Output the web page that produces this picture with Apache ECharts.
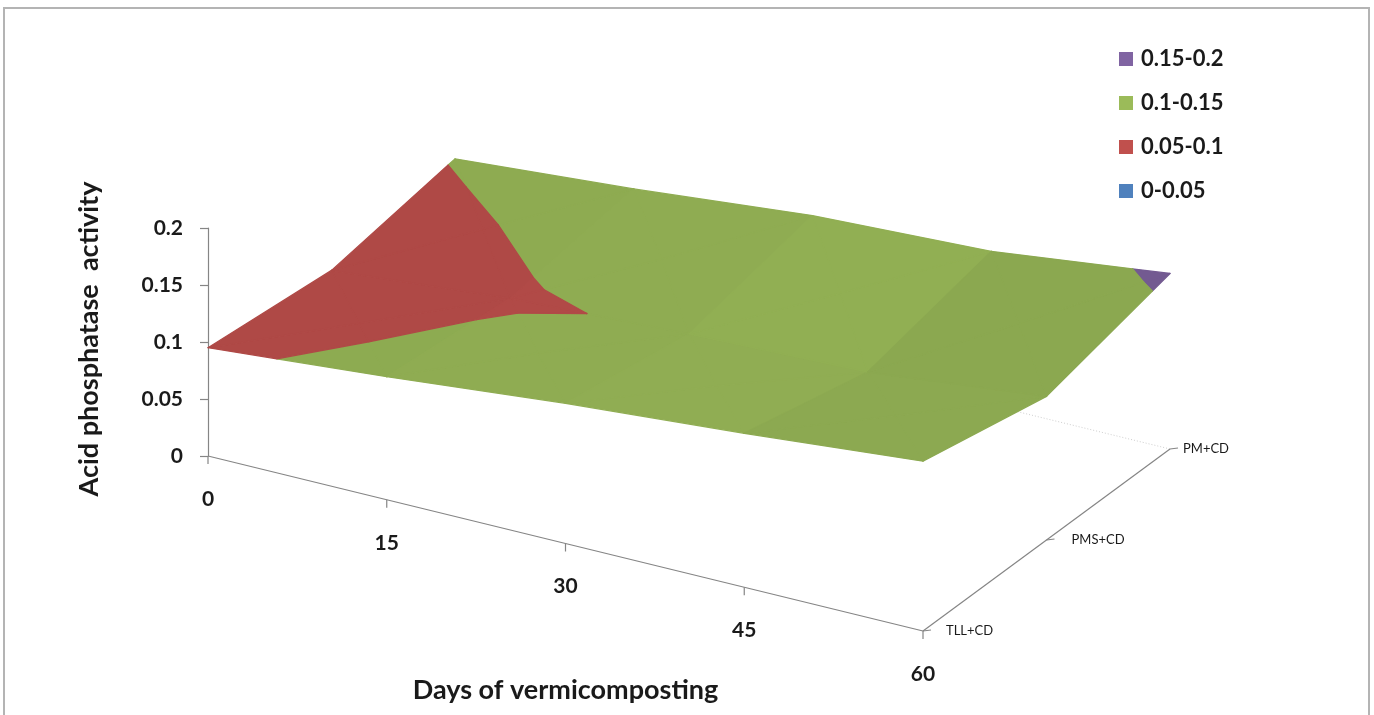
<!DOCTYPE html>
<html><head><meta charset="utf-8">
<style>html,body{margin:0;padding:0;background:#fff}#c{width:1374px;height:715px}</style>
<script src="https://cdn.jsdelivr.net/npm/echarts@6/dist/echarts.min.js"></script>
</head><body><div id="c"></div>
<script>
// ---- data ----
const days = [0, 15, 30, 45, 60];
const rows = ['TLL+CD', 'PMS+CD', 'PM+CD'];
const tllValues = [0.095, 0.108, 0.123, 0.135, 0.149];
const pmsValues = [0.083, 0.097, 0.104, 0.109, 0.126];
const pmValues  = [0.101, 0.113, 0.128, 0.135, 0.154];
const bandNames = ['0.15-0.2', '0.1-0.15', '0.05-0.1', '0-0.05'];
const bandLows  = [0.15, 0.1, 0.05, 0];
const bandHighs = [0.2, 0.15, 0.1, 0.05];
const bandColors = ['#8064A2', '#9BBB59', '#C0504D', '#4F81BD'];
const valueTicks = [0, 0.05, 0.1, 0.15, 0.2];

// ---- oblique projection: day axis falls to the right, row axis recedes up-right ----
const font = 'Lato, "Noto Sans", sans-serif';
const axisColor = '#858585';
const DAY_DROP = 175, ROW_DX = 247, ROW_DY = -182;
const ROW_LABEL_OFFSET = [23, 25, 13];
function project(api, day, rowPos, v) {
  const p = api.coord([day, v]);
  const f = day / 60;
  return [p[0] + rowPos * ROW_DX, p[1] + f * DAY_DROP + rowPos * ROW_DY];
}

// surface: every cell split at its centre (mean of its corners) into four triangles,
// each cell shaded from its mean slope along the day axis
const table = [tllValues, pmsValues, pmValues];
const triangles = [];
for (let r = 0; r < rows.length - 1; r++) {
  for (let d = 0; d < days.length - 1; d++) {
    const A = {day: days[d],   row: r / 2,       v: table[r][d]};
    const B = {day: days[d+1], row: r / 2,       v: table[r][d+1]};
    const C = {day: days[d+1], row: (r + 1) / 2, v: table[r+1][d+1]};
    const D = {day: days[d],   row: (r + 1) / 2, v: table[r+1][d]};
    const M = {day: (A.day + B.day) / 2, row: (A.row + D.row) / 2, v: (A.v + B.v + C.v + D.v) / 4};
    const slope = ((B.v - A.v) + (C.v - D.v)) / 2 / ((days[d+1] - days[d]) / 60);
    const shade = 0.955 - 0.8 * slope;
    [[A, B, M], [B, C, M], [C, D, M], [D, A, M]].forEach(t => triangles.push({pts: t, shade}));
  }
}
function clipBand(tri, lo, hi) {
  function clip(poly, keep, level) {
    const out = [];
    for (let i = 0; i < poly.length; i++) {
      const p = poly[i], q = poly[(i + 1) % poly.length];
      const kp = keep(p.v), kq = keep(q.v);
      if (kp) out.push(p);
      if (kp !== kq) {
        const t = (level - p.v) / (q.v - p.v);
        out.push({day: p.day + t * (q.day - p.day), row: p.row + t * (q.row - p.row), v: level});
      }
    }
    return out;
  }
  let poly = clip(tri, v => v >= lo, lo);
  if (poly.length) poly = clip(poly, v => v <= hi, hi);
  return poly;
}
function shadeColor(hex, f) {
  const n = parseInt(hex.slice(1), 16);
  const c = [(n >> 16) & 255, (n >> 8) & 255, n & 255].map(x => Math.round(x * f));
  return 'rgb(' + c.join(',') + ')';
}

const bandSeries = bandNames.map((name, bi) => ({
  name, type: 'custom', coordinateSystem: 'cartesian2d', silent: true, clip: false, z: 3,
  itemStyle: {color: bandColors[bi]},
  data: triangles.map((t, i) => [0, 0, i]),
  renderItem(params, api) {
    const tri = triangles[api.value(2)];
    const poly = clipBand(tri.pts, bandLows[bi], bandHighs[bi]);
    if (poly.length < 3) return {type: 'group', children: []};
    const col = shadeColor(bandColors[bi], tri.shade);
    return {type: 'polygon',
      shape: {points: poly.map(p => project(api, p.day, p.row, p.v))},
      style: {fill: col, stroke: col, lineWidth: 1.3, lineJoin: 'round'}};
  }
}));

// slanted axes, ticks and their labels
const axisSeries = {
  name: 'axes', type: 'custom', coordinateSystem: 'cartesian2d', silent: true, clip: false, z: 2,
  data: [[0, 0]],
  renderItem(params, api) {
    const line = (a, b, extra) => ({type: 'line', shape: {x1: a[0], y1: a[1], x2: b[0], y2: b[1]},
      style: Object.assign({stroke: axisColor, lineWidth: 1.2}, extra || {})});
    const kids = [];
    const o = project(api, 0, 0, 0), e = project(api, 60, 0, 0), bk = project(api, 60, 1, 0), b0 = project(api, 0, 1, 0);
    kids.push(line(b0, bk, {stroke: '#cfcfcf', lineWidth: 1, lineDash: [1, 2]}));
    kids.push(line(o, e));
    kids.push(line(e, bk));
    days.forEach(d => {
      const p = project(api, d, 0, 0);
      kids.push(line(p, [p[0], p[1] + 8]));
      kids.push({type: 'text', x: p[0], y: p[1] + 43, style: {text: String(d), fill: '#1a1a1a',
        font: 'bold 21px ' + font, textAlign: 'center', textVerticalAlign: 'middle'}});
    });
    rows.forEach((name, i) => {
      const p = project(api, 60, i / 2, 0);
      kids.push(line(p, [p[0] + 8, p[1] - 1]));
      kids.push({type: 'text', x: p[0] + ROW_LABEL_OFFSET[i], y: p[1], style: {text: name, fill: '#1a1a1a',
        font: '13px ' + font, textAlign: 'left', textVerticalAlign: 'middle'}});
    });
    return {type: 'group', children: kids};
  }
};

const chart = echarts.init(document.getElementById('c'));
chart.setOption({
  animation: false,
  backgroundColor: '#fff',
  graphic: [{type: 'rect', shape: {x: 4, y: 8, width: 1365, height: 730},
    style: {fill: 'none', stroke: '#b4b4b4', lineWidth: 2}, silent: true, z: -1}],
  grid: {left: 208, width: 715, top: 228, height: 228},
  legend: {
    data: bandNames, orient: 'vertical', left: 1114, top: 43, icon: 'rect', itemWidth: 14, itemHeight: 14,
    itemGap: 22, selectedMode: false,
    textStyle: {fontFamily: font, fontSize: 22, fontWeight: 'bold', color: '#1a1a1a', padding: [0, 0, 0, 3]}
  },
  xAxis: {type: 'value', min: 0, max: 60, interval: 15, splitLine: {show: false},
    axisLine: {show: false}, axisTick: {show: false}, axisLabel: {show: false},
    name: 'Days of vermicomposting', nameLocation: 'middle', nameGap: 221,
    nameTextStyle: {fontFamily: font, fontSize: 27, fontWeight: 'bold', color: '#1a1a1a'}},
  yAxis: {type: 'value', min: 0, max: 0.2, interval: 0.05, splitLine: {show: false},
    axisLine: {show: true, onZero: false, lineStyle: {color: axisColor, width: 1.2}},
    axisTick: {show: true, length: 8, lineStyle: {color: axisColor, width: 1.2}},
    axisLabel: {margin: 25, fontFamily: font, fontSize: 21, fontWeight: 'bold', color: '#1a1a1a',
      customValues: valueTicks, formatter: v => String(v)},
    name: 'Acid phosphatase  activity', nameLocation: 'middle', nameGap: 105,
    nameTextStyle: {fontFamily: font, fontSize: 27, fontWeight: 'bold', color: '#1a1a1a', padding: [0, 0, 0, 6]}},
  series: [axisSeries].concat(bandSeries)
});
</script></body></html>
